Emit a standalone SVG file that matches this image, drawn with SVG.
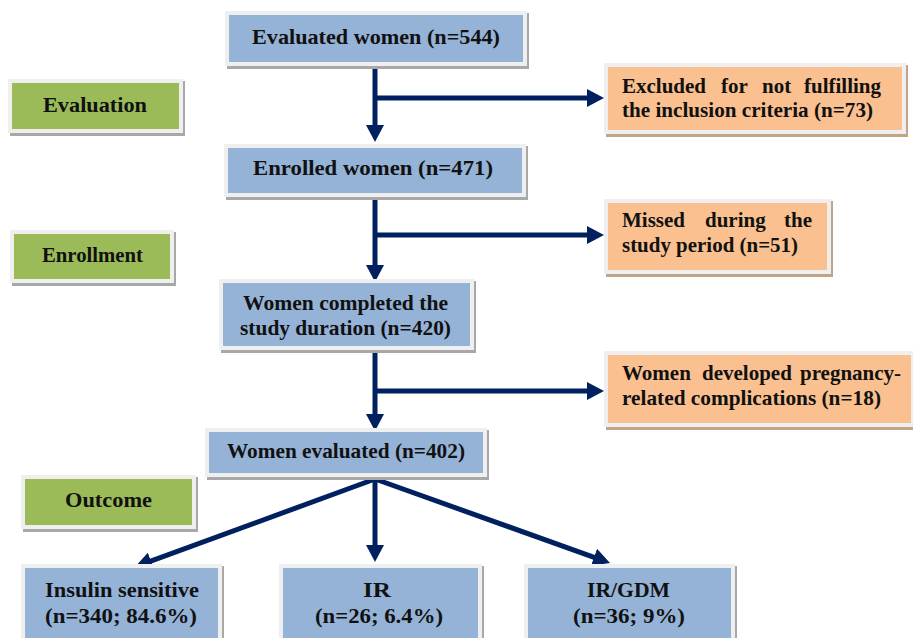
<svg xmlns="http://www.w3.org/2000/svg" width="913" height="638" viewBox="0 0 913 638">
<defs>
<style>
.t{font-family:"Liberation Serif","Times New Roman",serif;font-weight:bold;font-size:21px;fill:#111}
.sh{fill:#a8a8a8}
.sho{fill:#c4a488}
.fr{fill:#efefef}
.blue{fill:#95b3d7}
.green{fill:#9bbb59}
.orange{fill:#fac090}
.ln{stroke:#002060;stroke-width:5;fill:none;marker-end:url(#ah)}
</style>
<marker id="ah" markerUnits="userSpaceOnUse" markerWidth="17" markerHeight="18" viewBox="0 0 17 18" refX="9" refY="9" orient="auto">
<path d="M0,0 L17,9 L0,18 z" fill="#002060"/>
</marker>
</defs>
<rect width="913" height="638" fill="#fff"/>

<g id="connectors">
<line class="ln" x1="375" y1="66" x2="375" y2="134"/>
<polyline class="ln" points="375,98 596,98"/>
<line class="ln" x1="375" y1="196" x2="375" y2="274"/>
<polyline class="ln" points="375,235 596,235"/>
<line class="ln" x1="375" y1="349" x2="375" y2="423"/>
<polyline class="ln" points="375,391 596,391"/>
<line class="ln" x1="375" y1="476" x2="375" y2="554"/>
<line class="ln" x1="375" y1="479" x2="142.5" y2="564.2"/>
<line class="ln" x1="375" y1="479" x2="602.5" y2="560.3"/>
</g>

<g id="evaluated">
<rect class="sh" x="227" y="13" width="302" height="56"/>
<rect class="fr" x="225" y="11" width="302" height="55"/>
<rect class="blue" x="229" y="15" width="294" height="47"/>
<text class="t" x="252" y="44" textLength="248" lengthAdjust="spacingAndGlyphs">Evaluated women (n=544)</text>
</g>

<g id="evaluation">
<rect class="sh" x="10" y="81" width="175" height="55"/>
<rect class="fr" x="8" y="79" width="175" height="54"/>
<rect class="green" x="12" y="83" width="167" height="46"/>
<text class="t" x="43" y="112" textLength="104" lengthAdjust="spacingAndGlyphs">Evaluation</text>
</g>

<g id="excluded">
<rect class="sho" x="606" y="65" width="302" height="72"/>
<rect class="fr" x="604" y="63" width="302" height="71"/>
<rect class="orange" x="608" y="67" width="294" height="63"/>
<text class="t" y="93"><tspan x="622">Excluded</tspan><tspan x="721">for</tspan><tspan x="762">not</tspan><tspan x="804">fulfilling</tspan></text>
<text class="t" x="622" y="117" textLength="251" lengthAdjust="spacingAndGlyphs">the inclusion criteria (n=73)</text>
</g>

<g id="enrolled">
<rect class="sh" x="226" y="146" width="302" height="54"/>
<rect class="fr" x="224" y="144" width="302" height="53"/>
<rect class="blue" x="228" y="148" width="294" height="45"/>
<text class="t" x="253" y="175" textLength="240" lengthAdjust="spacingAndGlyphs">Enrolled women (n=471)</text>
</g>

<g id="missed">
<rect class="sho" x="606" y="201" width="227" height="76"/>
<rect class="fr" x="604" y="199" width="227" height="75"/>
<rect class="orange" x="608" y="203" width="219" height="67"/>
<text class="t" y="227"><tspan x="622">Missed</tspan><tspan x="705">during</tspan><tspan x="784">the</tspan></text>
<text class="t" x="622" y="252" textLength="176" lengthAdjust="spacingAndGlyphs">study period (n=51)</text>
</g>

<g id="enrollment">
<rect class="sh" x="12" y="232" width="164" height="54"/>
<rect class="fr" x="10" y="230" width="164" height="53"/>
<rect class="green" x="14" y="234" width="156" height="45"/>
<text class="t" x="42" y="262" textLength="101" lengthAdjust="spacingAndGlyphs">Enrollment</text>
</g>

<g id="completed">
<rect class="sh" x="221" y="281" width="255" height="72"/>
<rect class="fr" x="219" y="279" width="255" height="71"/>
<rect class="blue" x="223" y="283" width="247" height="63"/>
<text class="t" x="243" y="310" textLength="205" lengthAdjust="spacingAndGlyphs">Women completed the</text>
<text class="t" x="240" y="335" textLength="211" lengthAdjust="spacingAndGlyphs">study duration (n=420)</text>
</g>

<g id="complications">
<rect class="sho" x="606" y="353" width="310" height="77"/>
<rect class="fr" x="604" y="351" width="310" height="76"/>
<rect class="orange" x="608" y="355" width="303" height="68"/>
<text class="t" y="380"><tspan x="622">Women</tspan><tspan x="702">developed</tspan><tspan x="800">pregnancy-</tspan></text>
<text class="t" x="622" y="405" textLength="259" lengthAdjust="spacingAndGlyphs">related complications (n=18)</text>
</g>

<g id="women-evaluated">
<rect class="sh" x="207" y="430" width="282" height="50"/>
<rect class="fr" x="205" y="428" width="282" height="49"/>
<rect class="blue" x="209" y="432" width="274" height="41"/>
<text class="t" x="227" y="458" textLength="238" lengthAdjust="spacingAndGlyphs">Women evaluated (n=402)</text>
</g>

<g id="outcome">
<rect class="sh" x="23" y="477" width="175" height="55"/>
<rect class="fr" x="21" y="475" width="175" height="54"/>
<rect class="green" x="25" y="479" width="167" height="46"/>
<text class="t" x="65" y="507" textLength="87" lengthAdjust="spacingAndGlyphs">Outcome</text>
</g>

<g id="insulin-sensitive">
<rect class="sh" x="23" y="566" width="201" height="80"/>
<rect class="fr" x="21" y="564" width="201" height="80"/>
<rect class="blue" x="25" y="568" width="193" height="75"/>
<text class="t" x="45" y="597" textLength="154" lengthAdjust="spacingAndGlyphs">Insulin sensitive</text>
<text class="t" x="45" y="623" textLength="152" lengthAdjust="spacingAndGlyphs">(n=340; 84.6%)</text>
</g>

<g id="ir">
<rect class="sh" x="281" y="566" width="203" height="80"/>
<rect class="fr" x="279" y="564" width="203" height="80"/>
<rect class="blue" x="283" y="568" width="195" height="75"/>
<text class="t" x="363" y="597" textLength="28" lengthAdjust="spacingAndGlyphs">IR</text>
<text class="t" x="315" y="623" textLength="128" lengthAdjust="spacingAndGlyphs">(n=26; 6.4%)</text>
</g>

<g id="ir-gdm">
<rect class="sh" x="526" y="566" width="211" height="80"/>
<rect class="fr" x="524" y="564" width="211" height="80"/>
<rect class="blue" x="528" y="568" width="203" height="75"/>
<text class="t" x="587" y="597" textLength="83" lengthAdjust="spacingAndGlyphs">IR/GDM</text>
<text class="t" x="573" y="623" textLength="112" lengthAdjust="spacingAndGlyphs">(n=36; 9%)</text>
</g>
</svg>
